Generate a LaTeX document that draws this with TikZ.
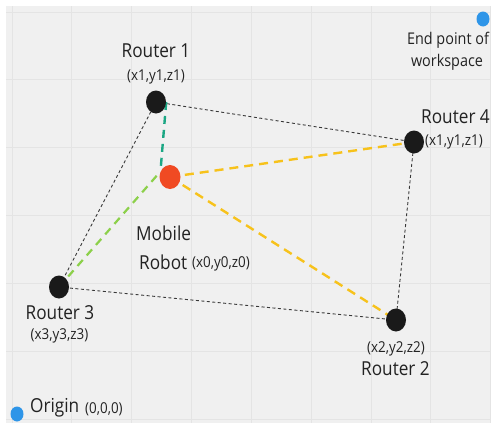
\documentclass[tikz,border=0pt]{standalone}
\usepackage{fontspec}
\usepackage{graphicx}
\setmainfont{Open Sans}
\usetikzlibrary{shapes.geometric}
\pgfdeclarelayer{grid}
\pgfdeclarelayer{links}
\pgfsetlayers{grid,links,main}
\definecolor{canvas}{HTML}{F0F0F0}
\definecolor{gridline}{HTML}{E4E4E4}
\definecolor{routerfill}{HTML}{1A1A1A}
\definecolor{robotfill}{HTML}{F04A23}
\definecolor{markerblue}{HTML}{2E95E8}
\definecolor{tealdash}{HTML}{1BA784}
\definecolor{yellowdash}{HTML}{F7C21B}
\definecolor{greendash}{HTML}{8CD04A}
\definecolor{labeltext}{HTML}{222222}
% labels are set slightly taller than wide
\newcommand{\tall}[1]{\scalebox{1}[1.12]{#1}}
\begin{document}
\begin{tikzpicture}[x=1pt,y=-1pt,
  router/.style={ellipse, fill=routerfill, minimum width=20pt, minimum height=23pt, inner sep=0pt},
  robot/.style={ellipse, fill=robotfill, minimum width=21pt, minimum height=24pt, inner sep=0pt},
  marker/.style={ellipse, fill=markerblue, minimum width=13pt, minimum height=15pt, inner sep=0pt},
  big/.style={font=\fontsize{17.2}{20}\selectfont, text=labeltext, inner sep=0pt},
  small/.style={font=\fontsize{13.4}{16}\selectfont, text=labeltext, inner sep=0pt},
  note/.style={font=\fontsize{14.4}{17}\selectfont, text=labeltext, inner sep=0pt},
  meshline/.style={draw=black!78, line width=0.9pt, dash pattern=on 3pt off 2.5pt},
  teallink/.style={draw=tealdash, line width=2.4pt, dash pattern=on 8pt off 6pt},
  yellowlink/.style={draw=yellowdash, line width=2.4pt, dash pattern=on 9pt off 6pt},
  greenlink/.style={draw=greendash, line width=2.2pt, dash pattern=on 8pt off 6pt}
]
\useasboundingbox (0,0) rectangle (491,423);

% workspace canvas and grid
\begin{pgfonlayer}{grid}
\fill[white] (0,0) rectangle (491,423);
\fill[canvas] (6,6) rectangle (491,423);
\foreach \gx in {12,71,131,191,251,311,371,430,490}
  \draw[gridline, line width=1pt] (\gx,6) -- (\gx,423);
\foreach \gy in {12,79,147,215,283,351,419}
  \draw[gridline, line width=1pt] (6,\gy) -- (491,\gy);
\end{pgfonlayer}

% routers, robot and workspace corners
\node[router] (r1) at (156,102) {};
\node[router] (r4) at (414,142) {};
\node[router] (r3) at (59,287) {};
\node[router] (r2) at (396,320) {};
\node[robot] (bot) at (170,177) {};
\node[marker] (endpt) at (483,19) {};
\node[marker] (origin) at (17,414) {};

% range links
\begin{pgfonlayer}{links}
\draw[meshline] (r1.center) -- (r4.center);
\draw[meshline] (r1.center) -- (r3.center);
\draw[meshline] (r4.center) -- (r2.center);
\draw[meshline] (r3.center) -- (r2.center);
\draw[teallink] (r1.east) -- (bot.150);
\draw[greenlink] (r3.center) -- (bot.150);
\draw[yellowlink] (bot.center) -- (r4.center);
\draw[yellowlink] (bot.center) -- (r2.center);
\end{pgfonlayer}

% labels
\node[big] (r1name) at (156,51) {\tall{Router 1}};
\node[small] (r1pos) at (156,77) {\tall{(x1,y1,z1)}};
\node[note] (endtext1) at (448,40) {\tall{End point of}};
\node[note] (endtext2) at (447,62) {\tall{workspace}};
\node[big, anchor=west] (r4name) at (421,117) {\tall{Router 4}};
\node[small, anchor=west] (r4pos) at (425,142) {\tall{(x1,y1,z1)}};
\node[big, anchor=west] (botname1) at (136,233) {\tall{Mobile}};
\node[big, anchor=west] (botname2) at (139,262) {\tall{Robot}};
\node[small, anchor=west] (botpos) at (192,264) {\tall{(x0,y0,z0)}};
\node[big] (r3name) at (60,313) {\tall{Router 3}};
\node[small] (r3pos) at (59.5,336) {\tall{(x3,y3,z3)}};
\node[small] (r2pos) at (396,349) {\tall{(x2,y2,z2)}};
\node[big] (r2name) at (395.5,369) {\tall{Router 2}};
\node[big, anchor=west] (originname) at (30,408) {\tall{Origin}};
\node[small, anchor=west] (originpos) at (85,409) {\tall{(0,0,0)}};
\end{tikzpicture}
\end{document}
